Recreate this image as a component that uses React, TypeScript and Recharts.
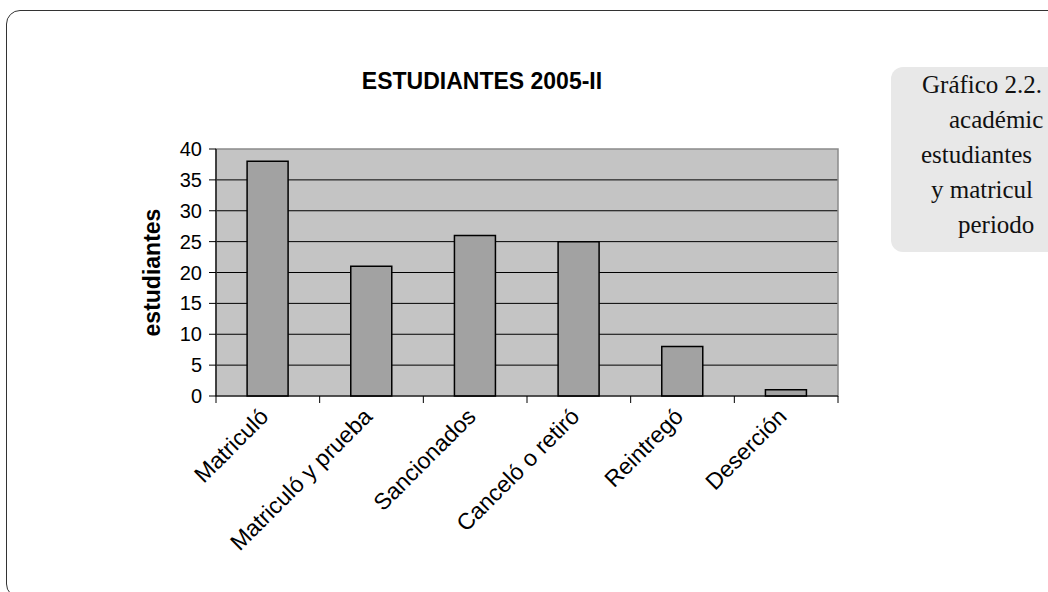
import { BarChart, Bar, XAxis, YAxis, CartesianGrid, ReferenceArea } from 'recharts'

const categories = [
  'Matriculó',
  'Matriculó y prueba',
  'Sancionados',
  'Canceló o retiró',
  'Reintregó',
  'Deserción',
]
const estudiantes = [38, 21, 26, 25, 8, 1]
const yTicks = [0, 5, 10, 15, 20, 25, 30, 35, 40]
const gridValues = [5, 10, 15, 20, 25, 30, 35]

const title = 'ESTUDIANTES 2005-II'
const yLabel = 'estudiantes'
// caption box is cut by the page edge in the reference; keep the visible part
const sideLines = [
  { text: 'Gráfico 2.2.', left: 922, top: 93 },
  { text: 'académic', left: 949, top: 128 },
  { text: 'estudiantes', left: 921, top: 163 },
  { text: 'y matricul', left: 931, top: 198 },
  { text: 'periodo', left: 958, top: 233 },
]

const data = categories.map((name, i) => ({ name, value: estudiantes[i] }))

const FONT = '"Liberation Sans", Arial, sans-serif'

// Excel-style category axis: tick marks on band edges, labels at -45 deg
function CategoryTick(props: any) {
  const { x, y, payload, index, visibleTicksCount } = props
  const half = payload?.offset ?? 0
  const left = x - half
  const right = x + half
  return (
    <g>
      <line x1={left} y1={y - 7} x2={left} y2={y} stroke="#000" strokeWidth={1} />
      {index === visibleTicksCount - 1 && (
        <line x1={right} y1={y - 7} x2={right} y2={y} stroke="#000" strokeWidth={1} />
      )}
      <text
        x={x + 2}
        y={y + 15}
        textAnchor="end"
        fontFamily={FONT}
        fontSize={23}
        fill="#000"
        transform={`rotate(-45 ${x + 2} ${y + 15})`}
      >
        {payload.value}
      </text>
    </g>
  )
}

export default function App() {
  return (
    <div
      style={{
        position: 'fixed',
        left: 0,
        top: 0,
        width: 1048,
        height: 592,
        overflow: 'hidden',
        background: '#fff',
      }}
    >
      {/* outer frame */}
      <div
        style={{
          position: 'absolute',
          left: 6,
          top: 10,
          width: 1100,
          height: 588,
          border: '1.5px solid #333',
          borderRadius: 14,
          boxSizing: 'border-box',
        }}
      />
      {/* side caption box */}
      <div
        style={{
          position: 'absolute',
          left: 891,
          top: 67,
          width: 220,
          height: 185,
          background: '#e8e8e8',
          borderRadius: 12,
        }}
      />
      {sideLines.map((l) => (
        <div
          key={l.text}
          style={{
            position: 'absolute',
            left: l.left,
            top: l.top - 21,
            fontFamily: '"Liberation Serif", serif',
            fontSize: 25,
            lineHeight: '25px',
            whiteSpace: 'nowrap',
            color: '#111',
          }}
        >
          {l.text}
        </div>
      ))}
      <div
        style={{
          position: 'absolute',
          left: 282,
          top: 70,
          width: 400,
          textAlign: 'center',
          fontFamily: FONT,
          fontWeight: 'bold',
          fontSize: 23,
          lineHeight: '23px',
          color: '#000',
        }}
      >
        {title}
      </div>
      <div style={{ position: 'absolute', left: 0, top: 0 }}>
        <BarChart
          width={1048}
          height={592}
          data={data}
          margin={{ top: 149, right: 210, left: 88, bottom: 96 }}
          barCategoryGap="30%"
        >
          <CartesianGrid
            vertical={false}
            horizontalValues={gridValues}
            stroke="#000"
            strokeWidth={1}
            fill="#c4c4c4"
            fillOpacity={1}
          />
          <ReferenceArea
            y1={0}
            y2={40}
            fill="none"
            stroke="#8a8a8a"
            strokeWidth={1.5}
            ifOverflow="visible"
          />
          <XAxis
            dataKey="name"
            height={100}
            interval={0}
            tickSize={7}
            tickMargin={0}
            tickLine={false}
            axisLine={{ stroke: '#000', strokeWidth: 1.2 }}
            tick={<CategoryTick />}
          />
          <YAxis
            width={128}
            domain={[0, 40]}
            ticks={yTicks}
            interval={0}
            tickSize={7}
            tickMargin={7}
            axisLine={{ stroke: '#000', strokeWidth: 1.2 }}
            tickLine={{ stroke: '#000' }}
            tick={{ fill: '#000', fontSize: 20, fontFamily: FONT }}
            label={{
              value: yLabel,
              angle: -90,
              position: 'center',
              fill: '#000',
              fontSize: 23,
              fontWeight: 'bold',
              fontFamily: FONT,
            }}
          />
          <Bar
            dataKey="value"
            fill="#a2a2a2"
            stroke="#000"
            strokeWidth={1.5}
            isAnimationActive={false}
          />
        </BarChart>
      </div>
    </div>
  )
}
